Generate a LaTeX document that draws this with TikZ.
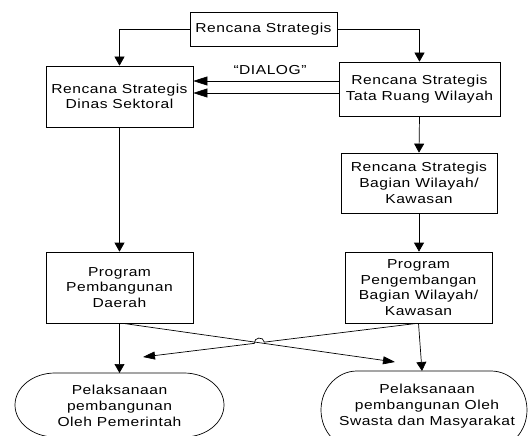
\documentclass[tikz,border=0pt]{standalone}
\usepackage{fontspec}
\setmainfont{Liberation Sans}[FakeStretch=1.2,LetterSpace=4]
\usetikzlibrary{arrows.meta,calc}
\tikzset{
  box/.style={draw, line width=0.7pt, align=center, inner sep=0pt,
    font=\fontsize{13}{15.7}\selectfont},
  lbl/.style={align=center, inner sep=0pt, font=\fontsize{13}{15.7}\selectfont},
  conn/.style={line width=0.7pt},
  varr/.style={conn, -{Triangle[length=9pt,width=10pt]}},
  harr/.style={conn, -{Triangle[length=14pt,width=9pt]}},
  carr/.style={conn, -{Triangle[length=12pt,width=8pt]}},
  shapeline/.style={line width=0.7pt}
}
\begin{document}
\begin{tikzpicture}[x=1pt,y=-1pt]
\useasboundingbox (0,0) rectangle (528,436);
\begin{scope}
\clip (0,0) rectangle (528,436);
% boxes
\node[box, minimum width=147pt, minimum height=34pt] (top) at (263.5,29.5) {Rencana Strategis};
\node[box, minimum width=147pt, minimum height=61pt] (dinas) at (119.5,96.5) {Rencana Strategis\\Dinas Sektoral};
\node[box, minimum width=161pt, minimum height=54pt] (tata) at (419.5,89) {Rencana Strategis\\Tata Ruang Wilayah};
\node[box, minimum width=156pt, minimum height=60pt] (bagian) at (419,183) {Rencana Strategis\\Bagian Wilayah/\\Kawasan};
\node[box, minimum width=147pt, minimum height=71pt] (daerah) at (119.5,287.5) {Program\\Pembangunan\\Daerah};
\node[box, minimum width=147pt, minimum height=71pt] (peng) at (418.5,287.5) {Program\\Pengembangan\\Bagian Wilayah/\\Kawasan};
\node[lbl] (dialog) at (270,70) {“DIALOG”};
% bottom rounded shapes
\draw[shapeline] (55,373) -- (184,373) arc[start angle=90, end angle=-90, x radius=40pt, y radius=32pt]
  -- (55,437) arc[start angle=270, end angle=90, x radius=40pt, y radius=32pt] -- cycle;
\node[lbl] (pemerintah) at (119.5,406) {Pelaksanaan\\pembangunan\\Oleh Pemerintah};
\draw[shapeline] (357,371) -- (491,371) arc[start angle=90, end angle=-90, x radius=36pt, y radius=39pt]
  -- (357,449) arc[start angle=270, end angle=90, x radius=36pt, y radius=39pt] -- cycle;
\node[lbl] (swasta) at (427,406) {Pelaksanaan\\pembangunan Oleh\\Swasta dan Masyarakat};
\coordinate (ltop) at (119.5,373);
\coordinate (rtop) at (422,371);
% connectors
\draw[varr] (top.west) -| (dinas.north);
\draw[varr] (top.east) -| (tata.north);
\coordinate (d1) at ([yshift=8pt]tata.west);
\coordinate (d2) at ([yshift=-4pt]tata.west);
\draw[harr] (d1) -- (d1 -| dinas.east);
\draw[harr] (d2) -- (d2 -| dinas.east);
\draw[varr] (tata.south) -- (bagian.north);
\draw[varr] (dinas.south) -- (daerah.north);
\draw[varr] (bagian.south) -- (bagian.south |- peng.north);
\draw[varr] (daerah.south) -- (ltop);
\draw[varr] (peng.south) -- (rtop);
% crossing arrows
\coordinate (astart) at ($(daerah.south)+(3.5,0)$);
\coordinate (aend) at (395,362);
\coordinate (bstart) at ($(peng.south)+(-1.5,0)$);
\coordinate (bend) at (143,357);
\coordinate (X) at (intersection of astart--aend and bstart--bend);
\coordinate (B1) at ($(X)!5pt!(bstart)$);
\coordinate (B2) at ($(X)!5pt!(bend)$);
\draw[carr] (astart) -- (aend);
\draw[carr] (bstart) -- (B1) to[out=97,in=97,looseness=1.6] (B2) -- (bend);
\end{scope}
\end{tikzpicture}
\end{document}
